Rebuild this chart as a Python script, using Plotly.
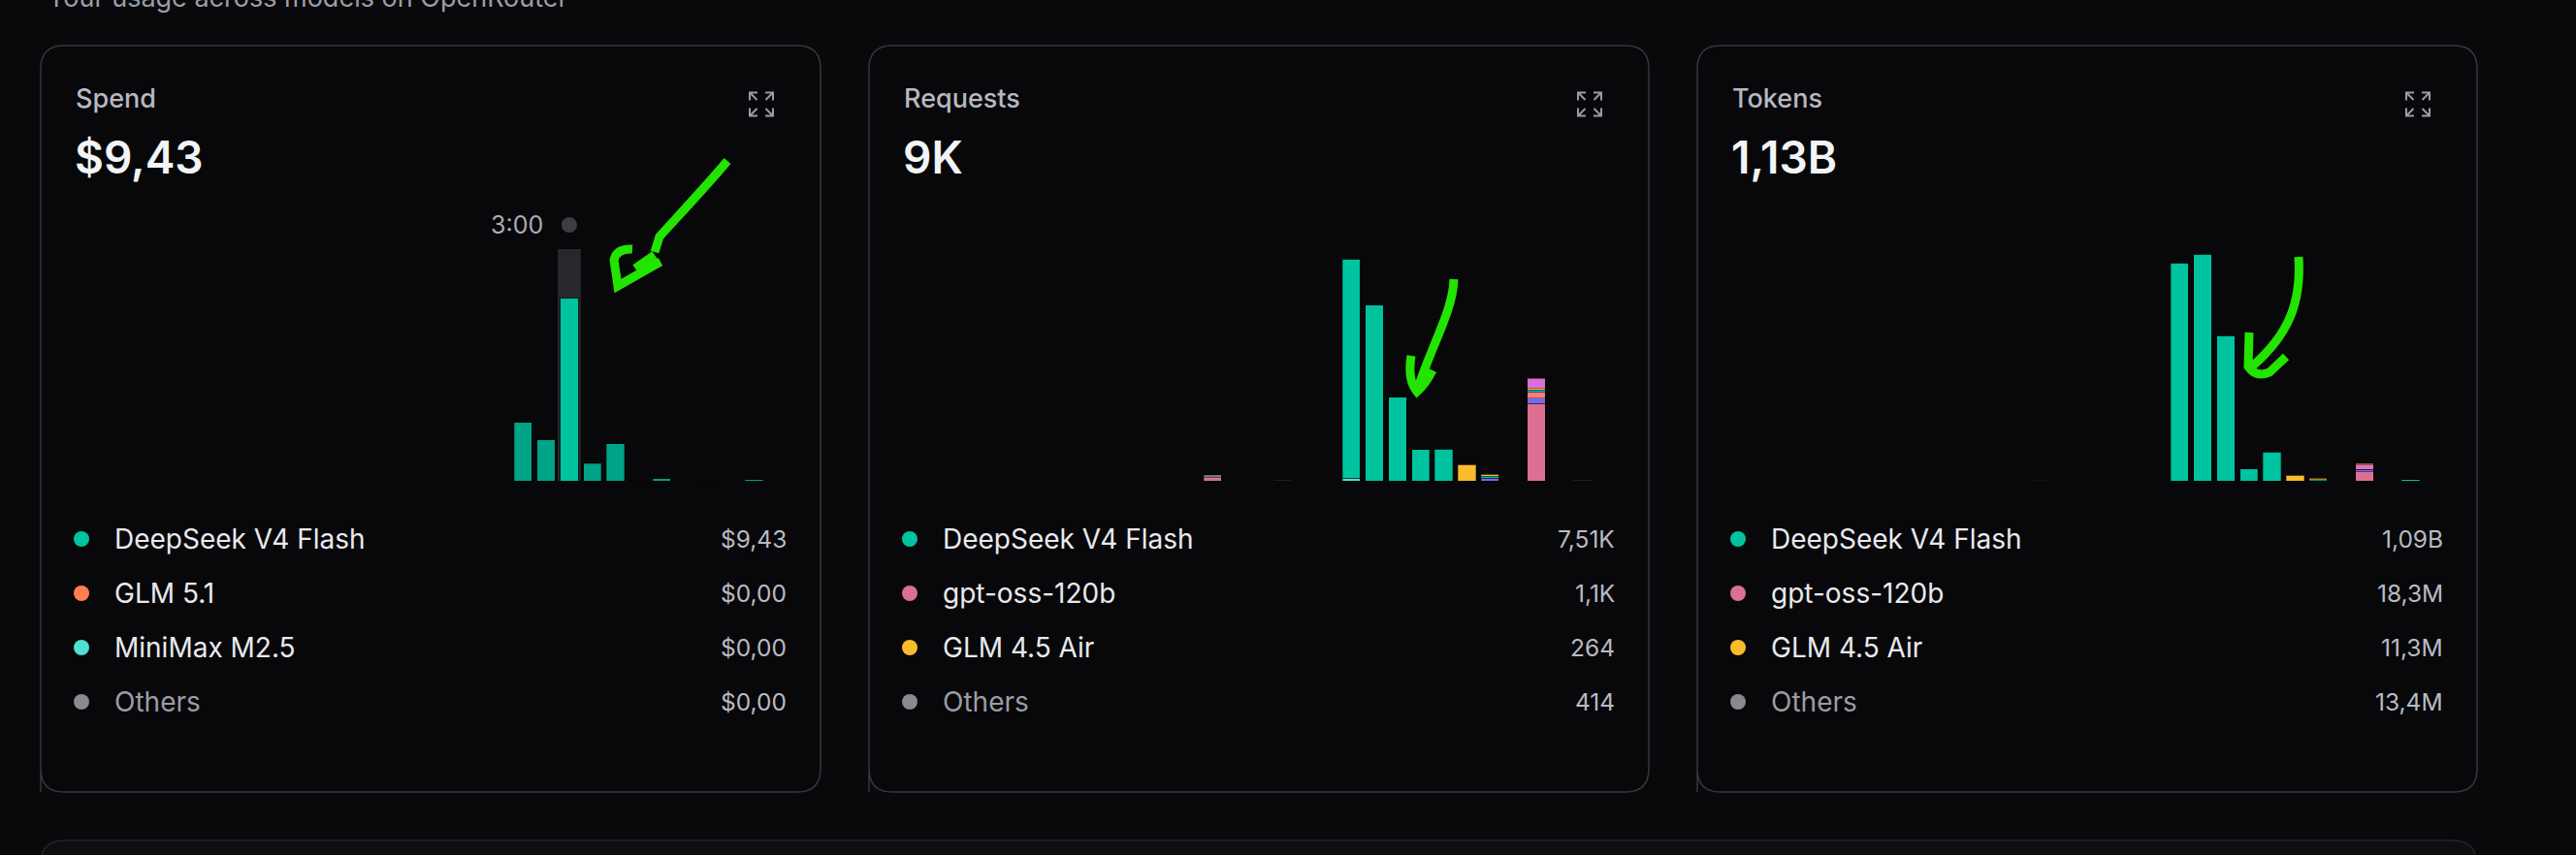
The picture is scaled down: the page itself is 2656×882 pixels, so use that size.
import plotly.graph_objects as go

# canvas in screen pixels
W, H = 2656, 882
BG = "#09090b"
FONT = "Inter"

# 31 hourly slots, hidden x axis
slots = list(range(31))
hour_labels = ["6:00", "7:00", "8:00", "9:00", "10:00", "11:00", "12:00", "13:00",
               "14:00", "15:00", "16:00", "17:00", "18:00", "19:00", "20:00", "21:00",
               "22:00", "23:00", "0:00", "1:00", "2:00", "3:00", "4:00", "5:00",
               "6:00", "7:00", "8:00", "9:00", "10:00", "11:00", "12:00"]
hover_slot = 21

# Spend ($) per slot
spend_deepseek = [0, 0, 0, 0, 0, 0, 0, 0, 0, 0,
                  0, 0, 0, 0, 0, 0, 0, 0, 0, 1.62,
                  1.13, 5.06, 0.48, 1.03, 0.01, 0.06, 0, 0.01, 0, 0.03, 0]

# Requests per slot
req_gptoss = [0, 0, 0, 0, 0, 0, 0, 0, 0, 0,
              0, 0, 0, 40, 0, 0, 0, 0, 0, 0,
              0, 0, 0, 0, 0, 0, 0, 1060, 0, 0, 0]
req_minimax = [0, 0, 0, 0, 0, 0, 0, 0, 0, 0,
               0, 0, 0, 0, 0, 0, 0, 0, 0, 36,
               0, 0, 0, 0, 0, 0, 0, 0, 0, 0, 0]
req_violet = [0, 0, 0, 0, 0, 0, 0, 0, 0, 0,
              0, 0, 0, 0, 0, 0, 0, 0, 0, 0,
              0, 0, 0, 0, 0, 36, 0, 76, 0, 0, 0]
req_salmon = [0, 0, 0, 0, 0, 0, 0, 0, 0, 0,
              0, 0, 0, 0, 0, 0, 0, 0, 0, 0,
              0, 0, 0, 0, 0, 0, 0, 87, 0, 0, 0]
req_deepseek = [0, 0, 0, 0, 0, 0, 0, 0, 0, 0,
                0, 0, 0, 0, 0, 0, 8, 0, 0, 3010,
                2412, 1148, 426, 439, 0, 27, 0, 27, 0, 13, 0]
req_glm_air = [0, 0, 0, 0, 0, 0, 0, 0, 0, 0,
               0, 0, 0, 0, 0, 0, 0, 0, 0, 0,
               0, 0, 0, 0, 220, 24, 0, 20, 0, 0, 0]
req_orchid = [0, 0, 0, 0, 0, 0, 0, 0, 0, 0,
              0, 0, 0, 0, 0, 0, 0, 0, 0, 0,
              0, 0, 0, 0, 0, 0, 0, 135, 0, 0, 0]
req_gray = [0, 0, 0, 0, 0, 0, 0, 0, 0, 0,
            0, 0, 0, 44, 0, 0, 0, 0, 0, 0,
            0, 0, 0, 0, 0, 0, 0, 0, 0, 0, 0]

# Tokens (millions) per slot
tok_gptoss = [0, 0, 0, 0, 0, 0, 0, 0, 0, 0,
              0, 0, 0, 1.6, 0, 0, 0, 0, 0, 0,
              0, 0, 0, 0, 0, 0, 0, 16.7, 0, 0, 0]
tok_violet = [0, 0, 0, 0, 0, 0, 0, 0, 0, 0,
              0, 0, 0, 0, 0, 0, 0, 0, 0, 0,
              0, 0, 0, 0, 0, 0.7, 0, 3.3, 0, 0, 0]
tok_deepseek = [0, 0, 0, 0, 0, 0, 0, 0, 0, 0,
                0, 0, 0, 0, 0, 0, 0, 0, 0, 375.7,
                391.2, 250.3, 20.1, 49.7, 0, 1.7, 0, 0, 0, 1.7, 0]
tok_glm_air = [0, 0, 0, 0, 0, 0, 0, 0, 0, 0,
               0, 0, 0, 0, 0, 0, 0, 0, 0, 0,
               0, 0, 0, 0, 9.5, 1.8, 0, 0, 0, 0, 0]
tok_orchid = [0, 0, 0, 0, 0, 0, 0, 0, 0, 0,
              0, 0, 0, 0, 0, 0, 0, 0, 0, 0,
              0, 0, 0, 0, 0, 0, 0, 7.2, 0, 0, 0]
tok_orange = [0, 0, 0, 0, 0, 0, 0, 0, 0, 0,
              0, 0, 0, 0, 0, 0, 0, 0, 0, 0,
              0, 0, 0, 0, 0, 0, 0, 2.2, 0, 0, 0]

# card headers and legends
card_titles = ["Spend", "Requests", "Tokens"]
card_totals = ["$9,43", "9K", "1,13B"]
y_max = [6.42, 3179, 399.6]

spend_names = ["DeepSeek V4 Flash", "GLM 5.1", "MiniMax M2.5", "Others"]
spend_values = ["$9,43", "$0,00", "$0,00", "$0,00"]
req_names = ["DeepSeek V4 Flash", "gpt-oss-120b", "GLM 4.5 Air", "Others"]
req_values = ["7,51K", "1,1K", "264", "414"]
tok_names = ["DeepSeek V4 Flash", "gpt-oss-120b", "GLM 4.5 Air", "Others"]
tok_values = ["1,09B", "18,3M", "11,3M", "13,4M"]

DEEPSEEK = "#00c4a0"
DEEPSEEK_DIM = "#00a385"
GPTOSS = "#dc7092"
GLM_AIR = "#fbbc2c"
GLM51 = "#ff7f50"
MINIMAX = "#4fe0d2"
VIOLET = "#7b68ee"
SALMON = "#f08080"
ORCHID = "#da70d6"
GRAY = "#76757b"
ORANGE = "#d9823e"
OTHERS_DOT = "#8a8a8e"

spend_colors = [DEEPSEEK, GLM51, MINIMAX, OTHERS_DOT]
req_colors = [DEEPSEEK, GPTOSS, GLM_AIR, OTHERS_DOT]
tok_colors = [DEEPSEEK, GPTOSS, GLM_AIR, OTHERS_DOT]


def px(x):
    return x / W


def py(y):
    return 1 - y / H


card_lefts = [42, 896, 1750]
card_w = 804
card_top, card_bottom = 47, 817
plot_top, plot_bottom = 257, 496
plot_pad = 32.6
plot_w = 738.7
slot_px = plot_w / len(slots)
legend_rows = [556, 612, 668, 724]

fig = go.Figure()


def add_bar(axis, y, color, name, line="rgba(0,0,0,0.3)"):
    fig.add_trace(go.Bar(
        x=slots, y=y, name=name, customdata=hour_labels,
        marker=dict(color=color, line=dict(color=line, width=1)),
        xaxis="x" + axis, yaxis="y" + axis,
        hovertemplate="%{customdata}: %{y}<extra>" + name + "</extra>",
    ))


# Spend: the hovered bar stays bright, the rest are dimmed
spend_bar_colors = [DEEPSEEK if s == hover_slot else DEEPSEEK_DIM for s in slots]
add_bar("", spend_deepseek, spend_bar_colors, "DeepSeek V4 Flash")

add_bar("2", req_gptoss, GPTOSS, "gpt-oss-120b")
add_bar("2", req_minimax, MINIMAX, "MiniMax M2.5")
add_bar("2", req_violet, VIOLET, "Other")
add_bar("2", req_salmon, SALMON, "Other")
add_bar("2", req_deepseek, DEEPSEEK, "DeepSeek V4 Flash")
add_bar("2", req_glm_air, GLM_AIR, "GLM 4.5 Air")
add_bar("2", req_orchid, ORCHID, "Other")
add_bar("2", req_gray, GRAY, "Other")

add_bar("3", tok_gptoss, GPTOSS, "gpt-oss-120b")
add_bar("3", tok_violet, VIOLET, "Other")
add_bar("3", tok_deepseek, DEEPSEEK, "DeepSeek V4 Flash")
add_bar("3", tok_glm_air, GLM_AIR, "GLM 4.5 Air")
add_bar("3", tok_orchid, ORCHID, "Other")
add_bar("3", tok_orange, ORANGE, "Other")


def rounded_path(x0, y0, x1, y1, r, open_bottom=False):
    d = f"M {px(x0)},{py(y1)} L {px(x0)},{py(y0 + r)} "
    d += f"Q {px(x0)},{py(y0)} {px(x0 + r)},{py(y0)} "
    d += f"L {px(x1 - r)},{py(y0)} Q {px(x1)},{py(y0)} {px(x1)},{py(y0 + r)} "
    if open_bottom:
        d += f"L {px(x1)},{py(y1)}"
        return d
    d += f"L {px(x1)},{py(y1 - r)} Q {px(x1)},{py(y1)} {px(x1 - r)},{py(y1)} "
    d += f"L {px(x0 + r)},{py(y1)} Q {px(x0)},{py(y1)} {px(x0)},{py(y1 - r)} Z"
    return d


def pix_path(cmds):
    # cmds: list of (letter, [x, y, ...]) in pixels; M/L get one point per command
    out = []
    for letter, pts in cmds:
        pairs = [f"{px(pts[i])},{py(pts[i + 1])}" for i in range(0, len(pts), 2)]
        if letter in ("M", "L"):
            out.append(f"{letter} {pairs[0]}")
            out.extend(f"L {p}" for p in pairs[1:])
        else:
            out.append(f"{letter} {' '.join(pairs)}")
    return " ".join(out)


shapes = []
annotations = []

# bottom card peeking in
shapes.append(dict(type="path", xref="paper", yref="paper",
                   path=rounded_path(42, 867, 2553, 960, 24, open_bottom=True),
                   fillcolor="#0d0e11", line=dict(color="#222327", width=1.5),
                   layer="below"))

# page subtitle (cut at the top)
annotations.append(dict(x=px(47), y=py(-3), xref="paper", yref="paper",
                        text="Your usage across models on OpenRouter", showarrow=False,
                        xanchor="left", yanchor="middle",
                        font=dict(family=FONT, size=27, color="#9a9ea6")))

legend_sets = [(spend_names, spend_values, spend_colors),
               (req_names, req_values, req_colors),
               (tok_names, tok_values, tok_colors)]

for k, left in enumerate(card_lefts):
    right = left + card_w
    shapes.append(dict(type="path", xref="paper", yref="paper",
                       path=rounded_path(left, card_top, right, card_bottom, 24),
                       fillcolor="#08080a", line=dict(color="#36373c", width=1.5),
                       layer="below"))

    # header
    annotations.append(dict(x=px(left + 34), y=py(101.5), xref="paper", yref="paper",
                            text=card_titles[k], showarrow=False, xanchor="left",
                            yanchor="middle",
                            font=dict(family=FONT, size=27, color="#b6b9c1", weight=500)))
    annotations.append(dict(x=px(left + 33), y=py(162), xref="paper", yref="paper",
                            text=card_totals[k], showarrow=False, xanchor="left",
                            yanchor="middle",
                            font=dict(family=FONT, size=46, color="#f2f4f7", weight=600)))

    # expand icon
    cx, cy, s, a = left + 743, 107.5, 12, 8
    icon = []
    for sx in (-1, 1):
        for sy in (-1, 1):
            ox, oy = cx + sx * s, cy + sy * s
            icon.append(("M", [ox - sx * a, oy, ox, oy, ox, oy - sy * a]))
            icon.append(("M", [ox, oy, ox - sx * 7.5, oy - sy * 7.5]))
    shapes.append(dict(type="path", xref="paper", yref="paper", path=pix_path(icon),
                       line=dict(color="#9a9ca4", width=2)))

    # legend rows
    names, values, colors = legend_sets[k]
    for i, row_y in enumerate(legend_rows):
        shapes.append(dict(type="circle", xref="paper", yref="paper",
                           x0=px(left + 34), x1=px(left + 50),
                           y0=py(row_y + 8), y1=py(row_y - 8),
                           fillcolor=colors[i], line=dict(width=0)))
        name_color = "#9a9da5" if names[i] == "Others" else "#e8eaee"
        annotations.append(dict(x=px(left + 74), y=py(row_y), xref="paper", yref="paper",
                                text=names[i], showarrow=False, xanchor="left",
                                yanchor="middle",
                                font=dict(family=FONT, size=28, color=name_color)))
        annotations.append(dict(x=px(left + 771), y=py(row_y), xref="paper", yref="paper",
                                text=values[i], showarrow=False, xanchor="right",
                                yanchor="middle",
                                font=dict(family=FONT, size=24.5, color="#b8bbc3")))

# hover column + tooltip label on the spend chart
shapes.append(dict(type="rect", xref="x", yref="y domain",
                   x0=hover_slot - 0.5, x1=hover_slot + 0.5, y0=0, y1=1,
                   fillcolor="#26282b", line=dict(width=0), layer="below"))
dot_r = 8 / slot_px
shapes.append(dict(type="circle", xref="x", yref="paper",
                   x0=hover_slot - dot_r, x1=hover_slot + dot_r,
                   y0=py(240), y1=py(224), fillcolor="#3d3e43", line=dict(width=0)))
annotations.append(dict(x=hover_slot, y=py(232), xref="x", yref="paper",
                        text=hour_labels[hover_slot], showarrow=False, xanchor="right",
                        yanchor="middle", xshift=-25,
                        font=dict(family=FONT, size=25, color="#a9acb4")))

# green hand-drawn arrows from the screenshot markup
GREEN = "#22e400"
arrows = [
    [("M", [750, 166]), ("C", [730, 190, 700, 222, 680, 244]), ("L", [675, 260]),
     ("M", [681, 270]), ("L", [637, 295, 633, 268]), ("Q", [636, 256, 652, 257]),
     ("M", [655, 277]), ("L", [675, 263])],
    [("M", [1499, 288]), ("C", [1498, 320, 1478, 352, 1462, 400]),
     ("M", [1455, 367]), ("Q", [1451, 392, 1461, 404]), ("Q", [1470, 396, 1477, 382])],
    [("M", [2370, 265]), ("C", [2373, 312, 2360, 345, 2322, 378]),
     ("M", [2319, 343]), ("L", [2318, 378]), ("Q", [2326, 390, 2340, 384]),
     ("L", [2357, 368])],
]
for a_cmds in arrows:
    shapes.append(dict(type="path", xref="paper", yref="paper", path=pix_path(a_cmds),
                       line=dict(color=GREEN, width=9)))

layout_axes = {}
for k, left in enumerate(card_lefts):
    suffix = "" if k == 0 else str(k + 1)
    x0 = left + plot_pad
    layout_axes["xaxis" + suffix] = dict(
        domain=[px(x0), px(x0 + plot_w)], range=[-0.5, len(slots) - 0.5],
        visible=False, fixedrange=True, anchor="y" + suffix)
    layout_axes["yaxis" + suffix] = dict(
        domain=[py(plot_bottom), py(plot_top)], range=[0, y_max[k]],
        visible=False, fixedrange=True, anchor="x" + suffix)

fig.update_layout(
    width=W, height=H,
    margin=dict(l=0, r=0, t=0, b=0),
    paper_bgcolor=BG, plot_bgcolor="rgba(0,0,0,0)",
    barmode="stack", bargap=0.23,
    showlegend=False,
    shapes=shapes, annotations=annotations,
    font=dict(family=FONT),
    **layout_axes,
)

fig.write_html("out.html", config={"displayModeBar": False},
               post_script="document.body.style.margin='0';document.body.style.overflow='hidden';")
